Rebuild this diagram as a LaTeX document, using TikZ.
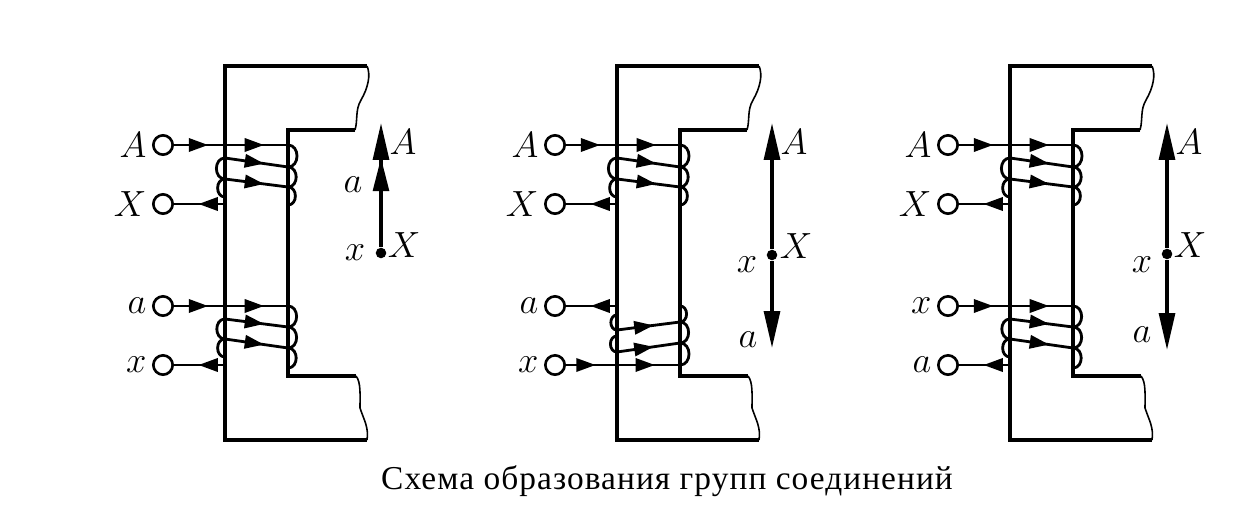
\documentclass[tikz,border=0pt]{standalone}
\usepackage{fontspec}
\setmainfont{Liberation Serif}
\usetikzlibrary{arrows.meta, positioning, decorations.markings}
\tikzstyle{terminal} = [circle, draw=black, line width=1.5pt, fill=white, minimum size=11pt, inner sep=0pt]
\tikzstyle{lbl} = [inner sep=0pt, font=\fontsize{20}{20}\selectfont]
\tikzstyle{core} = [line width=2.1pt, line join=miter]
\tikzstyle{rough} = [line width=0.9pt]
\tikzstyle{wire} = [line width=1.6pt]
\tikzstyle{phasor} = [line width=2pt, -{Triangle[length=21pt, width=9pt]}]
\tikzstyle{tip} = [circle, fill=black, minimum size=6pt, inner sep=0pt]
\tikzset{
  flow/.style={postaction={decorate}, decoration={markings, mark=at position #1 with {\arrow{Triangle[length=11pt, width=7.5pt]}}}},
  flowtwo/.style 2 args={postaction={decorate}, decoration={markings, mark=at position #1 with {\arrow{Triangle[length=11pt, width=7.5pt]}}, mark=at position #2 with {\arrow{Triangle[length=11pt, width=7.5pt]}}}},
  coilr/.style={out=0, in=0, looseness=1.4},
  coill/.style={out=180, in=180, looseness=1.4}
}
\begin{document}
\begin{tikzpicture}[x=0.02cm, y=-0.02cm]
\useasboundingbox (0,0) rectangle (1233,517);

% Core and upper winding, the same in all three
\foreach \px/\pn in {0/l, 392/m, 785/r} {
\begin{scope}[shift={(\px,0)}]
\draw[core] (367,66) -- (225,66) -- (225,440) -- (367,440);
\draw[core] (355,130) -- (288,130) -- (288,376) -- (356,376);
\draw[rough] (367,66) .. controls (371,75) and (368,88) .. (361,100) .. controls (355,110) and (358,120) .. (355,130);
\draw[rough] (356,376) .. controls (361,382) and (360,395) .. (360,408) .. controls (364,420) and (369,428) .. (367,440);
\node[terminal] (\pn A) at (163,145) {};
\node[terminal] (\pn X) at (163,204) {};
\node[lbl, left=3pt of \pn A] {$A$};
\node[lbl, left=3pt of \pn X] {$X$};
\coordinate (\pn r1) at (288,145);
\coordinate (\pn r2) at (288,167);
\coordinate (\pn r3) at (288,187);
\coordinate (\pn r4) at (288,205);
\coordinate (\pn l1) at (225,158);
\coordinate (\pn l2) at (225,179);
\coordinate (\pn l3) at (225,197);
\coordinate (\pn l4) at (225,204);
\draw[wire, flowtwo={0.3}{0.79}] (\pn A) -- (\pn r1);
\draw[wire, flow=0.62] (\pn l1) -- (\pn r2);
\draw[wire, flow=0.62] (\pn l2) -- (\pn r3);
\draw[wire, flow=0.52] (\pn l4) -- (\pn X);
\draw[wire] (\pn r1) to[coilr] (\pn r2);
\draw[wire] (\pn r2) to[coilr] (\pn r3);
\draw[wire] (\pn r3) to[coilr] (\pn r4);
\draw[wire] (\pn l1) to[coill] (\pn l2);
\draw[wire] (\pn l2) to[coill] (\pn l3);
\end{scope}
}

% Lower winding, first and third
\foreach \px/\pn/\lo/\hi in {0/l/a/x, 785/r/x/a} {
\begin{scope}[shift={(\px,0)}]
\node[terminal] (\pn a) at (163,306) {};
\node[terminal] (\pn x) at (163,365) {};
\node[lbl, left=3pt of \pn a] {$\lo$};
\node[lbl, left=3pt of \pn x] {$\hi$};
\coordinate (\pn s1) at (288,306);
\coordinate (\pn s2) at (288,327);
\coordinate (\pn s3) at (288,348);
\coordinate (\pn s4) at (288,368);
\coordinate (\pn k1) at (225,319);
\coordinate (\pn k2) at (225,339);
\coordinate (\pn k3) at (225,357);
\coordinate (\pn k4) at (225,365);
\draw[wire, flowtwo={0.3}{0.79}] (\pn a) -- (\pn s1);
\draw[wire, flow=0.62] (\pn k1) -- (\pn s2);
\draw[wire, flow=0.62] (\pn k2) -- (\pn s3);
\draw[wire, flow=0.52] (\pn k4) -- (\pn x);
\draw[wire] (\pn s1) to[coilr] (\pn s2);
\draw[wire] (\pn s2) to[coilr] (\pn s3);
\draw[wire] (\pn s3) to[coilr] (\pn s4);
\draw[wire] (\pn k1) to[coill] (\pn k2);
\draw[wire] (\pn k2) to[coill] (\pn k3);
\end{scope}
}

% Lower winding, second
\node[terminal] (ma) at (555,306) {};
\node[terminal] (mx) at (555,365) {};
\node[lbl, left=3pt of ma] {$a$};
\node[lbl, left=3pt of mx] {$x$};
\coordinate (ms1) at (680,306);
\coordinate (ms2) at (680,322);
\coordinate (ms3) at (680,343);
\coordinate (ms4) at (680,365);
\coordinate (mk0) at (617,306);
\coordinate (mk1) at (617,315);
\coordinate (mk2) at (617,330);
\coordinate (mk3) at (617,336);
\coordinate (mk4) at (617,352);
\draw[wire, flow=0.52] (mk0) -- (ma);
\draw[wire, flow=0.58] (mk2) -- (ms2);
\draw[wire, flow=0.58] (mk4) -- (ms3);
\draw[wire, flowtwo={0.26}{0.78}] (mx) -- (ms4);
\draw[wire] (ms1) to[coilr] (ms2);
\draw[wire] (ms2) to[coilr] (ms3);
\draw[wire] (ms3) to[coilr] (ms4);
\draw[wire] (mk1) to[coill] (mk2);
\draw[wire] (mk3) to[coill] (mk4);

% Phasors
\node[tip] (lO) at (381,253) {};
\coordinate (lP) at (381,123);
\draw[phasor, postaction={decorate}, decoration={markings, mark=at position 0.72 with {\arrow{Triangle[length=19pt, width=9pt]}}}] (lO) -- (lP);
\node[lbl] at (403,142) {$A$};
\node[lbl] at (353,185) {$a$};
\node[lbl] at (404,245) {$X$};
\node[lbl] at (355,253) {$x$};

\node[tip] (mO) at (772,255) {};
\coordinate (mP) at (772,123);
\coordinate (mQ) at (772,348);
\draw[phasor] (mO) -- (mP);
\draw[phasor] (mO) -- (mQ);
\node[lbl] at (794,142) {$A$};
\node[lbl] at (796,246) {$X$};
\node[lbl] at (747,265) {$x$};
\node[lbl] at (748,340) {$a$};

\node[tip] (rO) at (1167,254) {};
\coordinate (rP) at (1167,123);
\coordinate (rQ) at (1167,350);
\draw[phasor] (rO) -- (rP);
\draw[phasor] (rO) -- (rQ);
\node[lbl] at (1189,142) {$A$};
\node[lbl] at (1190,245) {$X$};
\node[lbl] at (1142,265) {$x$};
\node[lbl] at (1142,335) {$a$};

% Caption
\node[inner sep=0pt, font=\fontsize{19}{22}\selectfont\addfontfeature{LetterSpace=3.2}] (caption) at (667,481) {Схема образования групп соединений};

\end{tikzpicture}
\end{document}
